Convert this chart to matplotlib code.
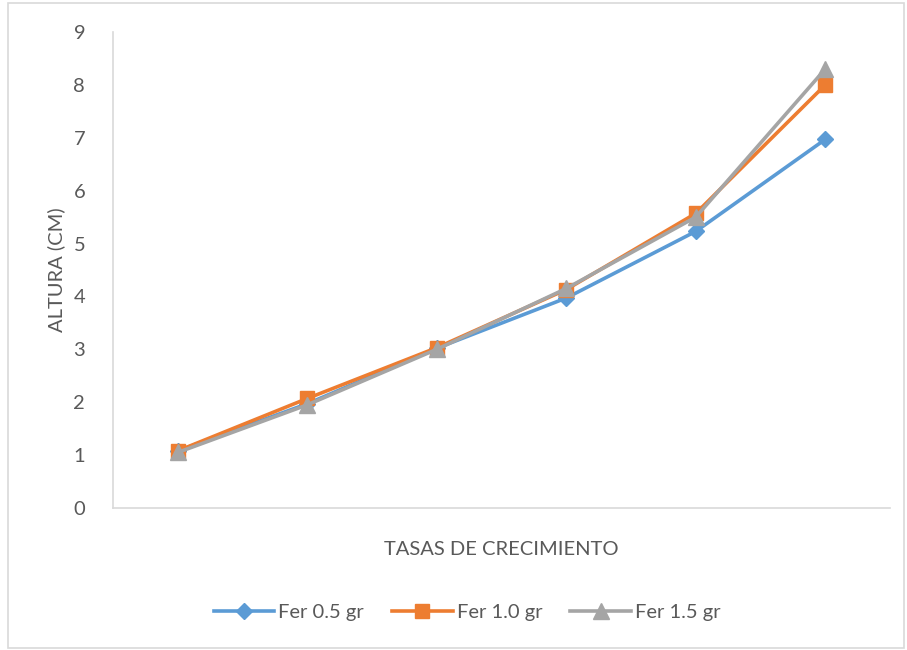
import matplotlib
matplotlib.use("Agg")
import matplotlib.pyplot as plt
from matplotlib.patches import Rectangle

plt.rcParams['font.family'] = ['Lato', 'DejaVu Sans']

categories = ["1", "2", "3", "4", "5", "6"]
fer_05 = [1.08, 1.97, 3.02, 3.97, 5.23, 6.97]
fer_10 = [1.08, 2.07, 3.03, 4.13, 5.57, 8.00]
fer_15 = [1.05, 1.95, 3.00, 4.15, 5.50, 8.30]
series_labels = ["Fer 0.5 gr", "Fer 1.0 gr", "Fer 1.5 gr"]
y_ticks = [0, 1, 2, 3, 4, 5, 6, 7, 8, 9]

text_color = "#595959"
spine_color = "#D9D9D9"
fs = 14.5

fig = plt.figure(figsize=(9.07, 6.5), dpi=100)
ax = fig.add_axes([0.1246, 0.2185, 0.8567, 0.7323])

x = list(range(len(categories)))
ax.plot(x, fer_05, color="#5B9BD5", lw=2.6, marker="D", ms=8.5,
        label=series_labels[0], zorder=3)
ax.plot(x, fer_10, color="#ED7D31", lw=2.6, marker="s", ms=10,
        label=series_labels[1], zorder=4)
ax.plot(x, fer_15, color="#A5A5A5", lw=2.6, marker="^", ms=11,
        label=series_labels[2], zorder=5)

ax.set_xlim(-0.5, len(categories) - 0.5)
ax.set_ylim(0, 9)
ax.set_yticks(y_ticks)
ax.set_xticks([])
ax.tick_params(axis="y", length=0, pad=20, labelsize=fs, labelcolor=text_color)

for side in ("top", "right"):
    ax.spines[side].set_visible(False)
for side in ("left", "bottom"):
    ax.spines[side].set_color(spine_color)
    ax.spines[side].set_linewidth(1.2)

ax.set_ylabel("ALTURA (CM)", fontsize=fs, color=text_color, labelpad=6)
ax.set_xlabel("TASAS DE CRECIMIENTO", fontsize=fs, color=text_color, labelpad=24)

leg = fig.legend(loc="center", bbox_to_anchor=(0.515, 0.057), ncol=3,
                 frameon=False, fontsize=fs, handlelength=3.0,
                 columnspacing=1.4, handletextpad=0.2)
for t in leg.get_texts():
    t.set_color(text_color)

fig.patches.append(Rectangle((0.009, 0.003), 0.988, 0.992,
                             transform=fig.transFigure, fill=False,
                             edgecolor=spine_color, lw=1.2))

fig.savefig("out.png", dpi=100)
